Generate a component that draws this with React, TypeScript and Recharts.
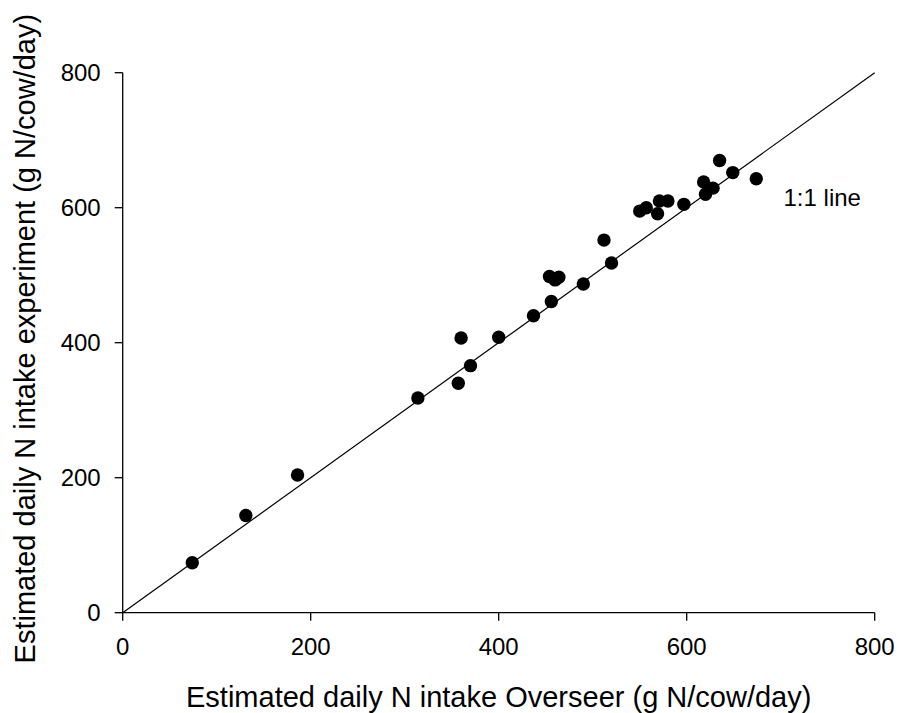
import React from "react";
import {
  ScatterChart,
  Scatter,
  XAxis,
  YAxis,
  ReferenceLine,
  ReferenceDot,
  Label,
} from "recharts";

// Overseer estimate (x) vs experiment estimate (y), g N/cow/day
const overseerN = [
  74, 131, 186, 314, 357, 360, 370, 400, 437, 456, 454, 460, 464, 490, 512,
  520, 550, 557, 569, 571, 580, 597, 618, 620, 628, 635, 649, 674,
];
const experimentN = [
  74, 144, 204, 318, 340, 407, 366, 408, 440, 461, 498, 493, 497, 487, 552,
  518, 595, 600, 591, 610, 610, 605, 638, 620, 629, 670, 652, 643,
];
const axisTicks = [0, 200, 400, 600, 800];
const oneToOne = [
  { x: 0, y: 0 },
  { x: 800, y: 800 },
];

const points = overseerN.map((x, i) => ({ x, y: experimentN[i] }));

const FONT = "'Liberation Sans', Arial, sans-serif";

const Dot = (props: any) => <circle cx={props.cx} cy={props.cy} r={6.7} fill="#000" />;

const XTitle = ({ viewBox }: any) => (
  <text
    x={viewBox.x + viewBox.width / 2}
    y={viewBox.y + 94.5}
    textAnchor="middle"
    fontFamily={FONT}
    fontSize={29}
    fill="#000"
  >
    Estimated daily N intake Overseer (g N/cow/day)
  </text>
);

const YTitle = ({ viewBox }: any) => {
  const x = viewBox.x + 12.5;
  const y = viewBox.y + viewBox.height / 2 - 4;
  return (
    <text
      x={x}
      y={y}
      transform={`rotate(-90, ${x}, ${y})`}
      textAnchor="middle"
      fontFamily={FONT}
      fontSize={29}
      fill="#000"
    >
      Estimated daily N intake experiment (g N/cow/day)
    </text>
  );
};

const LineNote = ({ viewBox }: any) => (
  <text
    x={viewBox.x}
    y={viewBox.y}
    fontFamily={FONT}
    fontSize={24}
    fill="#000"
  >
    1:1 line
  </text>
);

export default function App() {
  const tickStyle = { fontFamily: FONT, fontSize: 24, fill: "#000" };
  return (
    <div style={{ position: "absolute", left: 0, top: 0, background: "#fff" }}>
      <ScatterChart
        width={897}
        height={713}
        margin={{ top: 72.7, right: 22.3, left: 22.7, bottom: 40.3 }}
      >
        <XAxis
          type="number"
          dataKey="x"
          domain={[0, 800]}
          ticks={axisTicks}
          height={60}
          tick={tickStyle}
          tickSize={8}
          tickMargin={17}
          stroke="#000"
          strokeWidth={1.3}
          tickLine={{ stroke: "#000", strokeWidth: 1.3 }}
          allowDataOverflow
        >
          <Label content={XTitle} />
        </XAxis>
        <YAxis
          type="number"
          dataKey="y"
          domain={[0, 800]}
          ticks={axisTicks}
          width={100}
          tick={tickStyle}
          tickSize={8}
          tickMargin={14}
          stroke="#000"
          strokeWidth={1.3}
          tickLine={{ stroke: "#000", strokeWidth: 1.3 }}
          allowDataOverflow
        >
          <Label content={YTitle} />
        </YAxis>
        <ReferenceLine
          segment={oneToOne}
          stroke="#000"
          strokeWidth={1.2}
          ifOverflow="visible"
        />
        <ReferenceDot
          x={703}
          y={602}
          r={0}
          fill="none"
          stroke="none"
          label={<LineNote />}
          ifOverflow="visible"
        />
        <Scatter data={points} fill="#000" shape={Dot} isAnimationActive={false} />
      </ScatterChart>
    </div>
  );
}
